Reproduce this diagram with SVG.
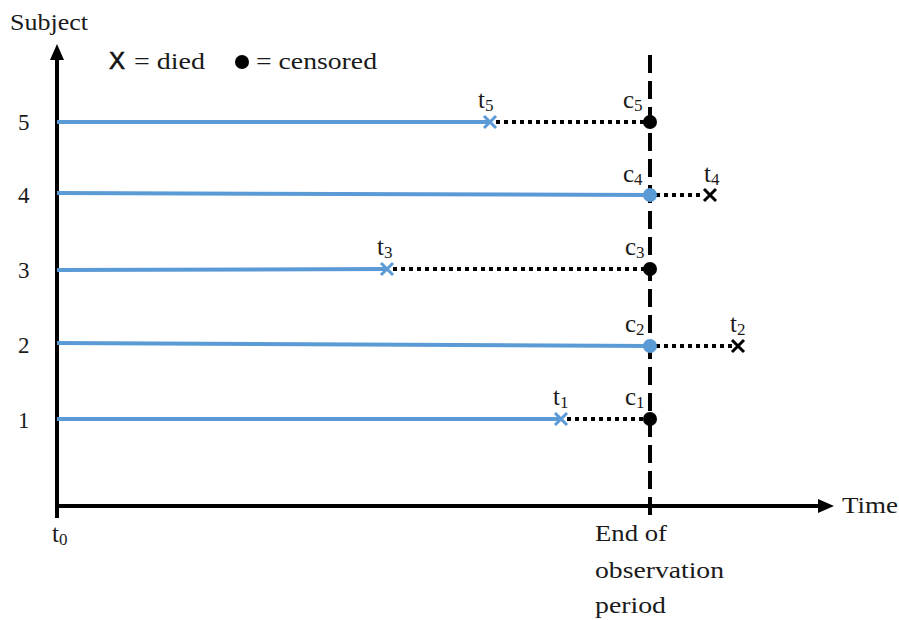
<svg xmlns="http://www.w3.org/2000/svg" width="899" height="620" viewBox="0 0 899 620">
  <style>
    .serif { font-family: "Liberation Serif", "DejaVu Serif", serif; fill: #1a1a1a; }
    .lbl { font-size: 24px; }
    .num { font-size: 23px; }
    .ev { font-size: 25px; }
    .sub { font-size: 17px; }
    .axis { stroke: #000; stroke-width: 4; fill: none; }
    .follow { stroke: #5b9bd5; stroke-width: 4; fill: none; }
    .after { stroke: #000; stroke-width: 4; stroke-dasharray: 4 4; fill: none; }
    .xblue { stroke: #5b9bd5; stroke-width: 3; fill: none; }
    .xblack { stroke: #000; stroke-width: 3; fill: none; }
    .cens { fill: #000; }
    .censb { fill: #5b9bd5; }
  </style>
  <rect width="899" height="620" fill="#fff"/>

  <!-- axes -->
  <g id="axes">
    <line class="axis" x1="57" y1="518" x2="57" y2="58"/>
    <polygon points="57,44 50,60 64,60" fill="#000"/>
    <line class="axis" x1="55" y1="506" x2="820" y2="506"/>
    <polygon points="834,506 818,499 818,513" fill="#000"/>
    <text class="serif lbl" x="10" y="30" textLength="78" lengthAdjust="spacingAndGlyphs">Subject</text>
    <text class="serif lbl" x="842" y="513" textLength="56" lengthAdjust="spacingAndGlyphs">Time</text>
    <text class="serif ev" x="52" y="542">t<tspan class="sub" dy="3">0</tspan></text>
  </g>

  <!-- end of observation period -->
  <g id="end-of-observation">
    <line x1="650" y1="55" x2="650" y2="520" stroke="#000" stroke-width="4" stroke-dasharray="18 8"/>
    <text class="serif lbl" x="595" y="541" textLength="72" lengthAdjust="spacingAndGlyphs">End of</text>
    <text class="serif lbl" x="595" y="578" textLength="129" lengthAdjust="spacingAndGlyphs">observation</text>
    <text class="serif lbl" x="595" y="613" textLength="71" lengthAdjust="spacingAndGlyphs">period</text>
  </g>

  <!-- legend -->
  <g id="legend">
    <text x="109" y="69" font-family="Liberation Sans, Arial, sans-serif" font-size="24" fill="#111" stroke="#111" stroke-width="0.6">X</text>
    <text class="serif lbl" x="134" y="69" textLength="71" lengthAdjust="spacingAndGlyphs">= died</text>
    <circle cx="242" cy="62" r="7" fill="#000"/>
    <text class="serif lbl" x="256" y="69" textLength="121" lengthAdjust="spacingAndGlyphs">= censored</text>
  </g>

  <!-- subject labels -->
  <g id="subject-labels">
    <text class="serif num" x="18" y="130">5</text>
    <text class="serif num" x="18" y="203">4</text>
    <text class="serif num" x="18" y="278">3</text>
    <text class="serif num" x="18" y="353">2</text>
    <text class="serif num" x="18" y="428">1</text>
  </g>

  <!-- follow-up lines -->
  <g id="connectors">
    <line class="follow" x1="57" y1="122" x2="490" y2="122"/>
    <line class="after" x1="496" y1="122" x2="646" y2="122"/>
    <line class="follow" x1="57" y1="193" x2="650" y2="195"/>
    <line class="after" x1="656" y1="195" x2="704" y2="195"/>
    <line class="follow" x1="57" y1="270" x2="387" y2="269"/>
    <line class="after" x1="393" y1="269" x2="646" y2="269"/>
    <line class="follow" x1="57" y1="343" x2="650" y2="346"/>
    <line class="after" x1="656" y1="346" x2="732" y2="346"/>
    <line class="follow" x1="57" y1="419" x2="561" y2="419"/>
    <line class="after" x1="567" y1="419" x2="646" y2="419"/>
  </g>

  <!-- subject 5 -->
  <g id="subject-5">
    <path class="xblue" d="M484,116 L496,128 M496,116 L484,128"/>
    <circle class="cens" cx="650" cy="122" r="7"/>
    <text class="serif ev" x="478" y="108">t<tspan class="sub" dy="3">5</tspan></text>
    <text class="serif ev" x="623" y="108">c<tspan class="sub" dy="3">5</tspan></text>
  </g>

  <!-- subject 4 -->
  <g id="subject-4">
    <circle class="censb" cx="650" cy="195" r="7"/>
    <path class="xblack" d="M704,189 L716,201 M716,189 L704,201"/>
    <text class="serif ev" x="623" y="182">c<tspan class="sub" dy="3">4</tspan></text>
    <text class="serif ev" x="704" y="182">t<tspan class="sub" dy="3">4</tspan></text>
  </g>

  <!-- subject 3 -->
  <g id="subject-3">
    <path class="xblue" d="M381,263 L393,275 M393,263 L381,275"/>
    <circle class="cens" cx="650" cy="269" r="7"/>
    <text class="serif ev" x="377" y="255">t<tspan class="sub" dy="3">3</tspan></text>
    <text class="serif ev" x="625" y="255">c<tspan class="sub" dy="3">3</tspan></text>
  </g>

  <!-- subject 2 -->
  <g id="subject-2">
    <circle class="censb" cx="650" cy="346" r="7"/>
    <path class="xblack" d="M732,340 L744,352 M744,340 L732,352"/>
    <text class="serif ev" x="625" y="332">c<tspan class="sub" dy="3">2</tspan></text>
    <text class="serif ev" x="730" y="332">t<tspan class="sub" dy="3">2</tspan></text>
  </g>

  <!-- subject 1 -->
  <g id="subject-1">
    <path class="xblue" d="M555,413 L567,425 M567,413 L555,425"/>
    <circle class="cens" cx="650" cy="419" r="7"/>
    <text class="serif ev" x="553" y="405">t<tspan class="sub" dy="3">1</tspan></text>
    <text class="serif ev" x="625" y="405">c<tspan class="sub" dy="3">1</tspan></text>
  </g>
</svg>
